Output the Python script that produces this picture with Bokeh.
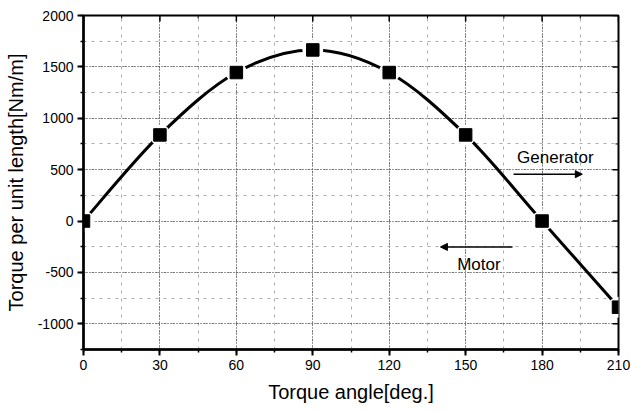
from bokeh.plotting import figure
from bokeh.models import Range1d, SingleIntervalTicker, Label, Arrow, NormalHead, ColumnDataSource, CustomJSTickFormatter
from bokeh.embed import file_html
from bokeh.resources import INLINE
import math

angles = [0, 30, 60, 90, 120, 150, 180, 210]
torque = [0, 838, 1445, 1665, 1445, 838, 0, -838]

x_major = [0, 30, 60, 90, 120, 150, 180, 210]
x_minor = [15, 45, 75, 105, 135, 165, 195]
y_major = [-1000, -500, 0, 500, 1000, 1500, 2000]
y_minor = [-1250, -750, -250, 250, 750, 1250, 1750]

X_MIN, X_MAX = 0, 210
Y_MIN, Y_MAX = -1250, 2000

FONT = "Liberation Sans"

p = figure(width=631, height=412, output_backend="svg", toolbar_location=None,
           x_range=Range1d(X_MIN, X_MAX), y_range=Range1d(Y_MIN, Y_MAX),
           min_border_left=83, min_border_right=13, min_border_top=15, min_border_bottom=63)

p.outline_line_color = "black"
p.outline_line_width = 2

plain = CustomJSTickFormatter(code="return String(tick)")

for ax in (p.xaxis[0], p.yaxis[0]):
    ax.ticker = SingleIntervalTicker(interval=30 if ax is p.xaxis[0] else 500, num_minor_ticks=2)
    ax.formatter = plain
    ax.axis_line_width = 2.5
    ax.major_tick_line_width = 2
    ax.minor_tick_line_width = 1.5
    ax.major_tick_out = 6
    ax.major_tick_in = 0
    ax.minor_tick_out = 3
    ax.minor_tick_in = 0
    ax.major_label_text_font = FONT
    ax.major_label_text_font_size = "14px"
    ax.major_label_text_color = "black"
    ax.axis_label_text_font = FONT
    ax.axis_label_text_font_size = "20px"
    ax.axis_label_text_font_style = "normal"
    ax.axis_label_text_color = "black"

p.xaxis.axis_label = "Torque angle[deg.]"
p.yaxis.axis_label = "Torque per unit length[Nm/m]"
p.xaxis.major_label_standoff = 4
p.yaxis.major_label_standoff = 4
p.xaxis.axis_label_standoff = 8
p.yaxis.axis_label_standoff = 8

for g, step in ((p.xgrid[0], 30), (p.ygrid[0], 500)):
    g.ticker = SingleIntervalTicker(interval=step, num_minor_ticks=2)
    g.grid_line_color = "#333333"
    g.grid_line_dash = "1 2"
    g.grid_line_width = 1
    g.minor_grid_line_color = "#999999"
    g.minor_grid_line_dash = "3 5"
    g.minor_grid_line_width = 1
    g.minor_grid_line_alpha = 0.8

# inward ticks on top and right edges (half of each dash is clipped by the frame)
p.scatter(x_major, [Y_MAX] * len(x_major), marker="dash", angle=math.pi / 2, size=12,
          line_color="black", line_width=1.5)
p.scatter(x_minor, [Y_MAX] * len(x_minor), marker="dash", angle=math.pi / 2, size=6,
          line_color="black", line_width=1)
p.scatter([X_MAX] * len(y_major), y_major, marker="dash", size=12,
          line_color="black", line_width=1.5)
p.scatter([X_MAX] * len(y_minor), y_minor, marker="dash", size=6,
          line_color="black", line_width=1)

# smooth curve (Catmull-Rom through the data points)
n = len(angles)
x0, y0, x1, y1, cx0, cy0, cx1, cy1 = [], [], [], [], [], [], [], []
for i in range(n - 1):
    pa = (angles[max(i - 1, 0)], torque[max(i - 1, 0)])
    pb = (angles[i], torque[i])
    pc = (angles[i + 1], torque[i + 1])
    pd = (angles[min(i + 2, n - 1)], torque[min(i + 2, n - 1)])
    x0.append(pb[0]); y0.append(pb[1])
    x1.append(pc[0]); y1.append(pc[1])
    cx0.append(pb[0] + (pc[0] - pa[0]) / 6); cy0.append(pb[1] + (pc[1] - pa[1]) / 6)
    cx1.append(pc[0] - (pd[0] - pb[0]) / 6); cy1.append(pc[1] - (pd[1] - pb[1]) / 6)
curve = ColumnDataSource(dict(x0=x0, y0=y0, x1=x1, y1=y1, cx0=cx0, cy0=cy0, cx1=cx1, cy1=cy1))
p.bezier(x0="x0", y0="y0", x1="x1", y1="y1", cx0="cx0", cy0="cy0", cx1="cx1", cy1="cy1",
         source=curve, line_color="black", line_width=3)

p.scatter(angles, torque, marker="circle", size=21, fill_color="white", line_color=None)
p.scatter(angles, torque, marker="square", size=12.5, fill_color="black", line_color="black")

p.add_layout(Label(x=185.2, y=621, text="Generator", text_font=FONT, text_font_size="17px",
                   text_align="center", text_baseline="middle", text_color="black"))
p.add_layout(Arrow(end=NormalHead(size=7, fill_color="black", line_color="black"),
                   x_start=168.8, y_start=456, x_end=195.8, y_end=456,
                   line_width=1.5, line_color="black"))
p.add_layout(Label(x=155.2, y=-427, text="Motor", text_font=FONT, text_font_size="17px",
                   text_align="center", text_baseline="middle", text_color="black"))
p.add_layout(Arrow(end=NormalHead(size=7, fill_color="black", line_color="black"),
                   x_start=168.4, y_start=-252, x_end=140.1, y_end=-252,
                   line_width=1.5, line_color="black"))

open("out.html", "w").write(file_html(p, INLINE))
